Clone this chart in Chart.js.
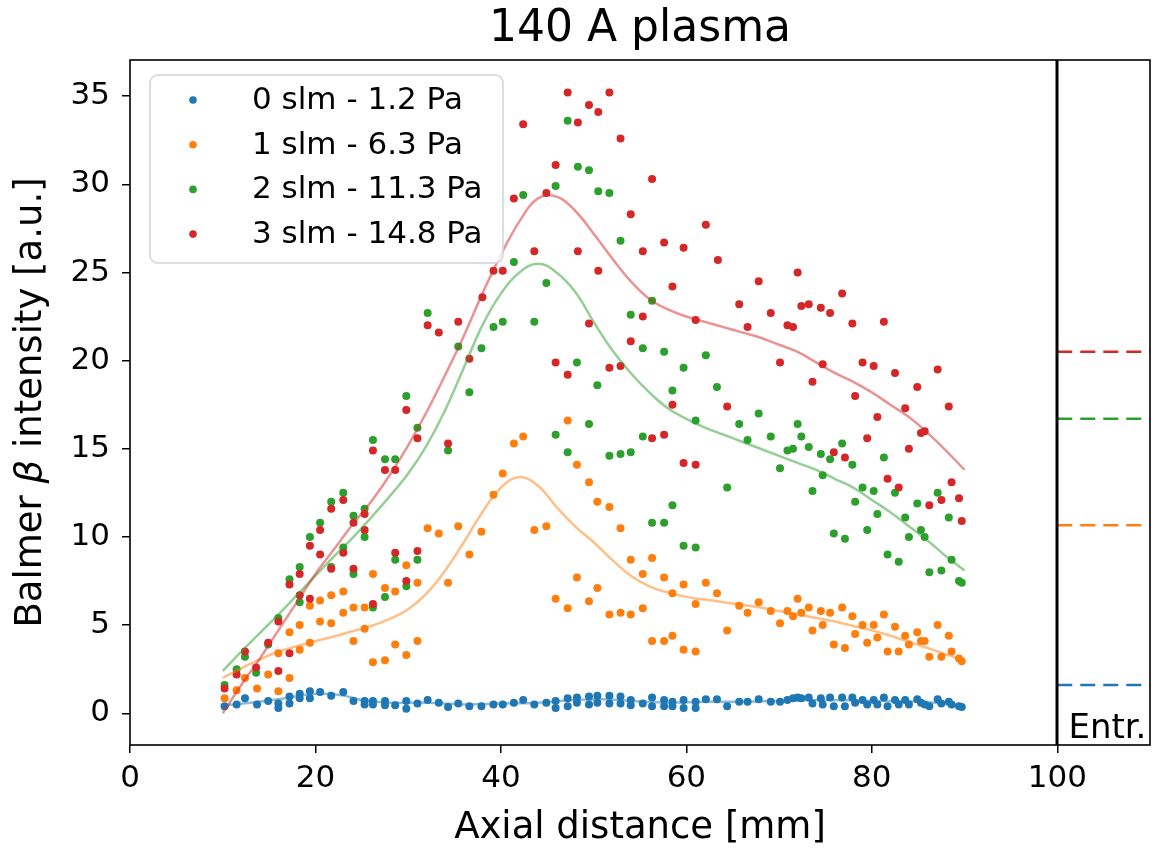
<!DOCTYPE html>
<html>
<head>
<meta charset="utf-8">
<title>140 A plasma</title>
<script src="https://cdn.jsdelivr.net/npm/chart.js@4.4.1/dist/chart.umd.min.js"></script>
<style>
  html, body { margin: 0; padding: 0; background: #fff; }
  #wrap { position: relative; width: 1163px; height: 853px; }
</style>
</head>
<body>
<div id="wrap"><canvas id="chart"></canvas></div>
<script>
var chartTitle = '140 A plasma';
var xTitle = 'Axial distance [mm]';
var yTitleParts = ['Balmer ', '\u03b2', ' intensity [a.u.]'];
var seriesLabels = ['0 slm - 1.2 Pa', '1 slm - 6.3 Pa', '2 slm - 11.3 Pa', '3 slm - 14.8 Pa'];
var seriesColors = ['#1f77b4', '#ff7f0e', '#2ca02c', '#d62728'];
var xTicks = [0, 20, 40, 60, 80, 100];
var yTicks = [0, 5, 10, 15, 20, 25, 30, 35];
var dividerX = 100;
var entranceLabel = 'Entr.';
// entrance intensity per series (blue, orange, green, red)
var entranceValues = [1.6, 10.66, 16.7, 20.5];

var bluePoints = [
  [10.2, 0.4], [11.5, 0.5], [12.4, 0.85], [13.7, 0.5], [14.9, 0.7], [16.0, 0.55], [16.0, 0.3],
  [17.2, 0.95], [17.2, 0.55], [18.3, 1.1], [18.3, 0.85], [19.4, 1.25], [19.4, 0.85], [20.5, 1.2],
  [21.7, 1.0], [23.0, 1.2], [24.1, 0.7], [25.3, 0.7], [25.3, 0.5], [26.2, 0.7], [26.2, 0.5],
  [27.5, 0.7], [27.5, 0.45], [28.6, 0.45], [29.8, 0.7], [29.8, 0.25], [31.0, 0.55], [32.1, 0.75],
  [33.3, 0.6], [34.3, 0.35], [35.4, 0.55], [36.6, 0.4], [37.9, 0.4], [39.2, 0.5], [40.2, 0.5],
  [41.4, 0.6], [42.4, 0.75], [43.6, 0.5], [44.9, 0.6], [45.9, 0.7], [45.9, 0.3], [47.2, 0.85],
  [47.2, 0.4], [48.2, 0.9], [48.2, 0.6], [49.5, 0.95], [49.5, 0.5], [50.4, 1.0], [50.4, 0.6],
  [51.7, 1.0], [51.7, 0.55], [52.9, 0.95], [52.9, 0.55], [54.0, 0.75], [54.0, 0.45], [55.3, 0.55],
  [56.3, 0.9], [56.3, 0.4], [57.6, 0.75], [57.6, 0.4], [58.5, 0.65], [58.5, 0.4], [59.7, 0.75],
  [59.7, 0.3], [61.0, 0.65], [61.0, 0.3], [62.1, 0.8], [63.3, 0.8], [64.4, 0.4], [65.7, 0.65],
  [66.6, 0.65], [67.8, 0.8], [69.1, 0.65], [70.1, 0.65], [70.9, 0.75], [71.5, 0.85], [72.0, 0.9],
  [72.4, 0.85], [73.2, 0.9], [73.6, 0.55], [74.5, 0.85], [74.7, 0.5], [75.5, 0.9], [75.9, 0.4],
  [76.8, 0.9], [77.1, 0.4], [77.9, 0.9], [78.2, 0.6], [79.0, 0.75], [79.5, 0.5], [80.2, 0.75],
  [80.6, 0.5], [81.3, 0.9], [81.7, 0.4], [82.5, 0.75], [82.9, 0.5], [83.6, 0.75], [84.0, 0.5],
  [84.9, 0.8], [85.3, 0.6], [85.7, 0.5], [86.2, 0.4], [87.1, 0.8], [87.5, 0.55], [88.3, 0.65],
  [88.6, 0.5], [89.4, 0.4], [89.7, 0.35]
];

var orangePoints = [
  [10.2, 0.85], [11.5, 1.3], [12.4, 2.0], [13.7, 1.4], [14.9, 2.2], [16.0, 1.25], [16.0, 3.4],
  [17.2, 2.0], [17.2, 4.6], [18.3, 5.0], [18.3, 3.6], [19.4, 4.0], [19.4, 6.1], [20.5, 6.4],
  [20.5, 5.2], [21.7, 6.7], [21.7, 5.1], [23.0, 6.9], [23.0, 5.7], [24.1, 6.0], [24.1, 4.1],
  [25.3, 6.0], [25.3, 4.8], [26.2, 7.9], [26.2, 2.9], [27.5, 7.1], [27.5, 3.0], [28.6, 6.9],
  [28.6, 3.9], [29.8, 8.4], [29.8, 3.3], [31.0, 7.4], [31.0, 4.1], [32.1, 10.5], [33.3, 10.2],
  [34.3, 7.4], [35.4, 10.6], [36.6, 9.0], [37.9, 10.3], [39.2, 12.4], [40.2, 13.6], [41.4, 15.3],
  [42.4, 15.7], [43.6, 10.4], [44.9, 10.6], [45.9, 6.5], [47.2, 16.6], [47.2, 5.95], [48.2, 14.1],
  [48.2, 7.7], [49.5, 13.1], [49.5, 6.35], [50.4, 12.0], [50.4, 7.1], [51.7, 11.7], [51.7, 5.6],
  [52.9, 10.5], [52.9, 5.7], [54.0, 8.7], [54.0, 5.6], [55.3, 7.9], [55.3, 5.95], [56.3, 8.8],
  [56.3, 4.1], [57.6, 7.7], [57.6, 4.1], [58.5, 6.8], [58.5, 4.4], [59.7, 7.3], [59.7, 3.6],
  [61.0, 6.2], [61.0, 3.5], [62.1, 7.4], [63.3, 6.8], [64.4, 4.7], [65.7, 6.1], [66.6, 5.7],
  [67.8, 6.3], [69.1, 5.8], [70.1, 5.1], [70.9, 5.8], [71.5, 5.5], [72.0, 6.5], [72.4, 5.7],
  [73.2, 6.0], [73.6, 4.7], [74.5, 5.8], [74.7, 5.0], [75.5, 5.7], [75.9, 3.9], [76.8, 6.0],
  [77.1, 3.7], [77.9, 5.5], [78.2, 4.5], [79.0, 5.0], [79.5, 4.0], [80.2, 5.0], [80.6, 4.3],
  [81.3, 5.6], [81.7, 3.5], [82.5, 4.9], [82.9, 3.5], [83.6, 4.4], [84.0, 3.9], [84.9, 4.6],
  [85.3, 4.1], [85.7, 4.1], [86.2, 3.2], [87.1, 5.0], [87.5, 3.2], [88.3, 4.4], [88.6, 3.5],
  [89.4, 3.1], [89.7, 2.95]
];

var greenPoints = [
  [10.2, 1.6], [11.5, 2.5], [12.4, 3.2], [13.6, 2.3], [14.9, 3.9], [16.0, 5.4], [17.2, 7.6],
  [18.3, 8.3], [18.3, 6.3], [19.4, 10.0], [20.5, 10.8], [21.7, 12.0], [21.7, 8.3], [23.0, 12.5],
  [23.0, 9.4], [24.1, 11.2], [24.1, 7.9], [25.3, 11.6], [25.3, 10.0], [26.2, 15.5], [26.2, 6.0],
  [27.5, 14.4], [27.5, 6.6], [28.6, 14.4], [28.6, 8.7], [29.8, 18.0], [29.8, 7.2], [31.0, 16.2],
  [31.0, 8.7], [32.1, 22.7], [34.3, 14.9], [35.4, 20.8], [36.6, 18.2], [37.9, 20.7], [39.2, 21.9],
  [40.2, 22.2], [41.4, 25.6], [42.4, 29.4], [43.6, 22.2], [44.9, 24.4], [45.9, 29.9], [45.9, 15.8],
  [47.2, 33.6], [47.2, 14.8], [48.3, 31.0], [48.2, 19.9], [49.5, 30.8], [49.5, 16.4], [50.5, 29.6],
  [50.4, 18.6], [51.7, 29.5], [51.7, 14.6], [52.9, 26.8], [52.9, 14.7], [54.0, 22.6], [54.0, 14.8],
  [55.3, 20.7], [55.3, 15.7], [56.3, 23.4], [56.3, 10.8], [57.6, 20.5], [57.6, 10.8], [58.5, 18.3],
  [58.5, 11.8], [59.7, 19.6], [59.7, 9.5], [61.0, 16.6], [61.0, 9.4], [62.1, 20.3], [63.3, 18.5],
  [64.4, 12.8], [65.7, 16.4], [66.6, 15.5], [67.8, 17.0], [69.1, 15.7], [70.1, 13.9], [70.9, 14.9],
  [71.5, 15.0], [72.0, 16.4], [72.4, 15.7], [73.2, 15.1], [73.6, 12.6], [74.5, 14.7], [74.7, 13.5],
  [75.5, 14.4], [75.9, 10.2], [76.8, 15.3], [77.1, 9.9], [77.9, 14.1], [78.2, 12.0], [79.0, 12.8],
  [79.5, 10.4], [80.2, 12.6], [80.6, 11.3], [81.3, 14.5], [81.7, 9.0], [82.5, 12.5], [82.9, 8.6],
  [83.6, 11.1], [84.0, 10.0], [84.9, 11.9], [85.3, 10.4], [85.7, 10.0], [86.2, 8.0], [87.1, 12.5],
  [87.5, 8.1], [88.3, 11.1], [88.6, 8.7], [89.4, 7.5], [89.7, 7.4]
];

var redPoints = [
  [10.2, 1.4], [11.5, 2.2], [12.4, 3.5], [13.6, 2.6], [14.9, 4.0], [16.0, 2.4], [16.0, 5.2],
  [17.2, 3.4], [17.2, 7.3], [18.3, 6.7], [18.3, 7.9], [19.4, 6.5], [19.4, 9.5], [20.5, 9.0],
  [20.5, 10.4], [21.7, 8.2], [21.7, 11.6], [23.0, 9.1], [23.0, 12.1], [24.1, 10.8], [24.1, 8.2],
  [25.3, 11.3], [25.3, 10.4], [26.2, 6.2], [26.2, 14.9], [27.5, 13.8], [28.6, 13.8], [28.6, 9.1],
  [29.8, 17.2], [29.8, 7.5], [31.0, 15.6], [31.0, 9.2], [32.1, 22.0], [33.3, 21.6], [34.3, 15.3],
  [35.4, 22.2], [36.6, 20.1], [38.0, 23.6], [39.2, 25.1], [40.2, 25.1], [41.4, 29.2], [42.4, 33.4],
  [43.6, 26.2], [44.9, 29.5], [45.9, 31.1], [45.9, 19.9], [47.2, 35.2], [47.2, 19.2], [48.3, 33.5],
  [48.3, 26.2], [49.5, 34.5], [49.5, 22.1], [50.5, 34.1], [50.5, 25.1], [51.7, 35.2], [51.7, 19.6],
  [52.9, 32.6], [52.9, 19.7], [54.0, 28.3], [54.0, 21.1], [55.3, 26.2], [55.3, 22.5], [56.3, 30.3],
  [56.3, 15.6], [57.6, 26.7], [57.6, 15.8], [58.5, 24.2], [58.5, 17.5], [59.7, 26.4], [59.7, 14.2],
  [61.0, 22.3], [61.0, 14.1], [62.1, 27.7], [63.4, 25.7], [64.4, 17.4], [65.7, 23.2], [66.6, 21.9],
  [67.8, 24.5], [69.1, 22.7], [70.1, 19.9], [70.9, 22.0], [71.5, 21.9], [72.0, 25.0], [72.4, 23.1],
  [73.2, 23.2], [73.6, 18.8], [74.5, 23.0], [74.7, 19.8], [75.5, 22.7], [75.9, 14.8], [76.8, 23.8],
  [77.1, 14.5], [77.9, 22.1], [78.2, 18.0], [79.0, 19.9], [79.5, 15.6], [80.2, 19.7], [80.6, 16.8],
  [81.3, 22.2], [81.7, 13.3], [82.5, 19.3], [82.9, 12.8], [83.6, 17.3], [84.0, 15.0], [84.9, 18.5],
  [85.3, 15.9], [85.7, 16.0], [86.2, 11.8], [87.1, 19.5], [87.5, 12.1], [88.3, 17.4], [88.6, 13.1],
  [89.4, 12.2], [89.7, 10.9]
];

// smoothed fits, every 2 mm
var blueFit = [
  [10, 0.45], [13, 0.6], [16, 0.8], [19, 1.05], [21, 1.1], [23, 1.0], [25, 0.75], [28, 0.6],
  [32, 0.6], [36, 0.5], [40, 0.55], [44, 0.6], [48, 0.75], [51, 0.8], [54, 0.7], [58, 0.6],
  [62, 0.65], [66, 0.65], [70, 0.7], [75, 0.75], [80, 0.7], [85, 0.65], [90, 0.45]
];
var orangeFit = [
  [10, 2.0], [12, 2.55], [14, 3.05], [16, 3.5], [18, 3.8], [20, 4.1], [22, 4.35], [24, 4.65],
  [26, 4.95], [28, 5.35], [30, 5.9], [32, 6.8], [34, 8.1], [36, 9.7], [38, 11.4], [40, 12.8],
  [42, 13.4], [44, 12.9], [46, 11.7], [48, 10.6], [50, 9.7], [52, 8.7], [54, 7.8], [56, 7.2],
  [58, 6.85], [60, 6.6], [62, 6.45], [64, 6.3], [66, 6.15], [68, 6.0], [70, 5.8], [72, 5.6],
  [74, 5.4], [76, 5.2], [78, 4.95], [80, 4.7], [82, 4.4], [84, 4.05], [86, 3.7], [88, 3.35],
  [90, 3.0]
];
var greenFit = [
  [10, 2.4], [12, 3.5], [14, 4.55], [16, 5.6], [18, 6.7], [20, 7.8], [22, 8.9], [24, 9.95],
  [26, 11.1], [28, 12.3], [30, 13.6], [32, 15.2], [34, 17.2], [36, 19.6], [38, 22.0], [40, 23.8],
  [42, 25.0], [44, 25.5], [46, 25.0], [48, 23.9], [50, 22.2], [52, 20.6], [54, 19.3], [56, 18.2],
  [58, 17.3], [60, 16.7], [62, 16.2], [64, 15.8], [66, 15.4], [68, 15.0], [70, 14.6], [72, 14.2],
  [74, 13.8], [76, 13.3], [78, 12.8], [80, 12.1], [82, 11.4], [84, 10.6], [86, 9.8], [88, 8.9],
  [90, 8.1]
];
var redFit = [
  [10, 0.0], [12, 1.6], [14, 3.1], [16, 4.7], [18, 6.3], [20, 7.9], [22, 9.3], [24, 10.7],
  [26, 12.0], [28, 13.5], [30, 15.2], [32, 17.1], [34, 19.2], [36, 21.4], [38, 23.8], [40, 26.0],
  [42, 27.9], [44, 29.2], [46, 29.3], [48, 28.5], [50, 27.2], [52, 25.8], [54, 24.5], [56, 23.5],
  [58, 22.9], [60, 22.5], [62, 22.2], [64, 21.9], [66, 21.6], [68, 21.3], [70, 20.9], [72, 20.5],
  [74, 19.9], [76, 19.3], [78, 18.8], [80, 18.2], [82, 17.5], [84, 16.8], [86, 15.9], [88, 14.9],
  [90, 13.8]
];

(function () {
  var FONT = '"DejaVu Sans", "Liberation Sans", sans-serif';
  var X_MIN = 0, X_MAX = 110, Y_MIN = -1.8, Y_MAX = 37.05;

  function toXY(pairs) {
    return pairs.map(function (p) { return { x: p[0], y: p[1] }; });
  }

  function fade(hex, alpha) {
    var n = parseInt(hex.slice(1), 16);
    return 'rgba(' + (n >> 16) + ',' + ((n >> 8) & 255) + ',' + (n & 255) + ',' + alpha + ')';
  }

  var pointSets = [bluePoints, orangePoints, greenPoints, redPoints];
  var fitSets = [blueFit, orangeFit, greenFit, redFit];
  var datasets = [];

  pointSets.forEach(function (pts, i) {
    datasets.push({
      label: seriesLabels[i],
      data: toXY(pts),
      showLine: false,
      pointRadius: 4,
      pointHoverRadius: 4,
      pointBorderWidth: 0,
      pointBackgroundColor: seriesColors[i],
      order: 20 - i
    });
  });

  fitSets.forEach(function (pts, i) {
    datasets.push({
      label: seriesLabels[i] + ' fit',
      data: toXY(pts),
      showLine: true,
      pointRadius: 0,
      borderColor: fade(seriesColors[i], 0.5),
      borderWidth: 2.5,
      tension: 0.4,
      order: 10 - i
    });
  });

  entranceValues.forEach(function (v, i) {
    datasets.push({
      label: seriesLabels[i] + ' entrance',
      data: [{ x: dividerX, y: v }, { x: X_MAX, y: v }],
      showLine: true,
      pointRadius: 0,
      borderColor: seriesColors[i],
      borderWidth: 2.6,
      borderDash: [15, 8],
      order: 5 - i
    });
  });

  var decor = {
    id: 'decor',
    afterDatasetsDraw: function (chart) {
      var ctx = chart.ctx;
      var area = chart.chartArea;
      var xs = chart.scales.x;
      var ys = chart.scales.y;
      ctx.save();

      ctx.strokeStyle = '#000';
      ctx.lineWidth = 1.6;
      ctx.strokeRect(area.left, area.top, area.right - area.left, area.bottom - area.top);

      var xd = Math.round(xs.getPixelForValue(dividerX));
      ctx.lineWidth = 3;
      ctx.beginPath();
      ctx.moveTo(xd, area.top);
      ctx.lineTo(xd, area.bottom);
      ctx.stroke();

      ctx.fillStyle = '#000';
      ctx.font = '34px ' + FONT;
      ctx.textAlign = 'left';
      ctx.textBaseline = 'alphabetic';
      ctx.fillText(entranceLabel, xs.getPixelForValue(101.2), ys.getPixelForValue(-1.42));

      // legend box
      var bx = area.left + 20, by = area.top + 15, bw = 353, bh = 188;
      ctx.beginPath();
      if (ctx.roundRect) {
        ctx.roundRect(bx, by, bw, bh, 8);
      } else {
        ctx.rect(bx, by, bw, bh);
      }
      ctx.fillStyle = 'rgba(255,255,255,0.8)';
      ctx.fill();
      ctx.strokeStyle = '#d3d3d3';
      ctx.lineWidth = 1.5;
      ctx.stroke();

      ctx.font = '31px ' + FONT;
      ctx.textBaseline = 'middle';
      seriesLabels.forEach(function (label, i) {
        var ry = by + 25 + i * 44.7;
        ctx.beginPath();
        ctx.arc(bx + 43, ry, 3.8, 0, Math.PI * 2);
        ctx.fillStyle = seriesColors[i];
        ctx.fill();
        ctx.fillStyle = '#000';
        ctx.fillText(label, bx + 102, ry + 1);
      });
      ctx.restore();
    },
    afterDraw: function (chart) {
      var ctx = chart.ctx;
      var area = chart.chartArea;
      var cx = (area.left + area.right) / 2;
      var cy = (area.top + area.bottom) / 2;
      ctx.save();
      ctx.fillStyle = '#000';
      ctx.textBaseline = 'middle';
      ctx.textAlign = 'center';

      ctx.font = '44px ' + FONT;
      ctx.fillText(chartTitle, cx, 30);

      ctx.font = '37px ' + FONT;
      ctx.fillText(xTitle, cx, 828);

      // y title with italic beta
      ctx.translate(31, cy);
      ctx.rotate(-Math.PI / 2);
      var fonts = ['37px ' + FONT, 'italic 37px ' + FONT, '37px ' + FONT];
      var widths = yTitleParts.map(function (t, i) {
        ctx.font = fonts[i];
        return ctx.measureText(t).width;
      });
      var total = widths.reduce(function (a, b) { return a + b; }, 0);
      var px = -total / 2;
      ctx.textAlign = 'left';
      yTitleParts.forEach(function (t, i) {
        ctx.font = fonts[i];
        ctx.fillText(t, px, 0);
        px += widths[i];
      });
      ctx.restore();
    }
  };

  function fixedTicks(values) {
    return function (scale) {
      scale.ticks = values.map(function (v) { return { value: v }; });
    };
  }

  Chart.defaults.color = '#000';

  new Chart(document.getElementById('chart'), {
    type: 'scatter',
    data: { datasets: datasets },
    plugins: [decor],
    options: {
      responsive: true,
      maintainAspectRatio: false,
      devicePixelRatio: 1,
      animation: false,
      events: [],
      layout: { padding: { top: 60, right: 13, left: 0, bottom: 0 } },
      plugins: {
        legend: { display: false },
        tooltip: { enabled: false },
        title: { display: false }
      },
      scales: {
        x: {
          type: 'linear',
          min: X_MIN,
          max: X_MAX,
          afterBuildTicks: fixedTicks(xTicks),
          afterFit: function (scale) { scale.height = 108; },
          border: { display: false },
          grid: { drawOnChartArea: false, drawTicks: true, tickLength: 8, color: '#000', lineWidth: 1.5 },
          ticks: { font: { family: 'DejaVu Sans', size: 31 }, color: '#000', padding: 7, maxRotation: 0 }
        },
        y: {
          type: 'linear',
          min: Y_MIN,
          max: Y_MAX,
          afterBuildTicks: fixedTicks(yTicks),
          afterFit: function (scale) { scale.width = 130; },
          border: { display: false },
          grid: { drawOnChartArea: false, drawTicks: true, tickLength: 8, color: '#000', lineWidth: 1.5 },
          ticks: { font: { family: 'DejaVu Sans', size: 31 }, color: '#000', padding: 12 }
        }
      }
    }
  });
})();
</script>
</body>
</html>
